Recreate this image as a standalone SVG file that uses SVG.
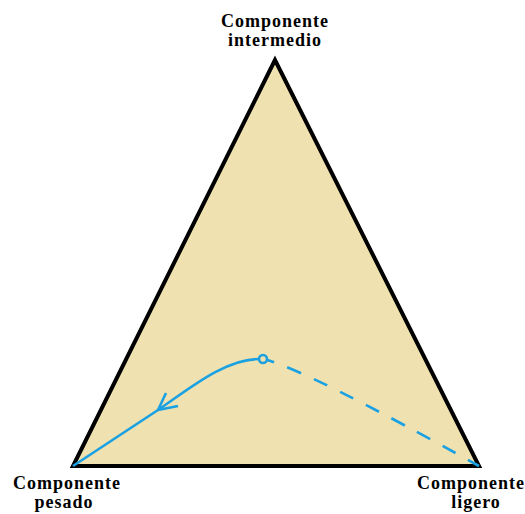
<svg xmlns="http://www.w3.org/2000/svg" width="525" height="514" viewBox="0 0 525 514">
  <style>
    .label { font-family: "Liberation Serif", "Times New Roman", serif; font-weight: bold; font-size: 18px; letter-spacing: 1px; fill: #000; text-anchor: middle; }
    .edge { fill: #EFE2B0; stroke: #000; stroke-width: 4; stroke-linejoin: miter; }
    .path { fill: none; stroke: #1BA1E2; stroke-width: 2.6; stroke-linecap: butt; }
  </style>
  <rect width="525" height="514" fill="#fff"/>

  <!-- ternary diagram body -->
  <g id="triangle">
    <polygon class="edge" points="275,60 73,466 479,466"/>
  </g>

  <!-- corner labels -->
  <g id="intermedio">
    <text class="label" x="275" y="27">Componente</text>
    <text class="label" x="275" y="46">intermedio</text>
  </g>
  <g id="pesado">
    <text class="label" x="67" y="489">Componente</text>
    <text class="label" x="64" y="508">pesado</text>
  </g>
  <g id="ligero">
    <text class="label" x="471" y="489">Componente</text>
    <text class="label" x="476" y="508">ligero</text>
  </g>

  <!-- residue curve through the start point -->
  <g id="connectors">
    <path class="path" d="M259,359 C225,359 190,388 158,410 L73,466"/>
    <path class="path" d="M158,410 L166,393 M158,410 L178,406"/>
    <path class="path" d="M267,360 Q310,372 479,466" stroke-dasharray="15 14" stroke-dashoffset="7"/>
    <circle class="path" cx="263" cy="359" r="4"/>
  </g>
</svg>
